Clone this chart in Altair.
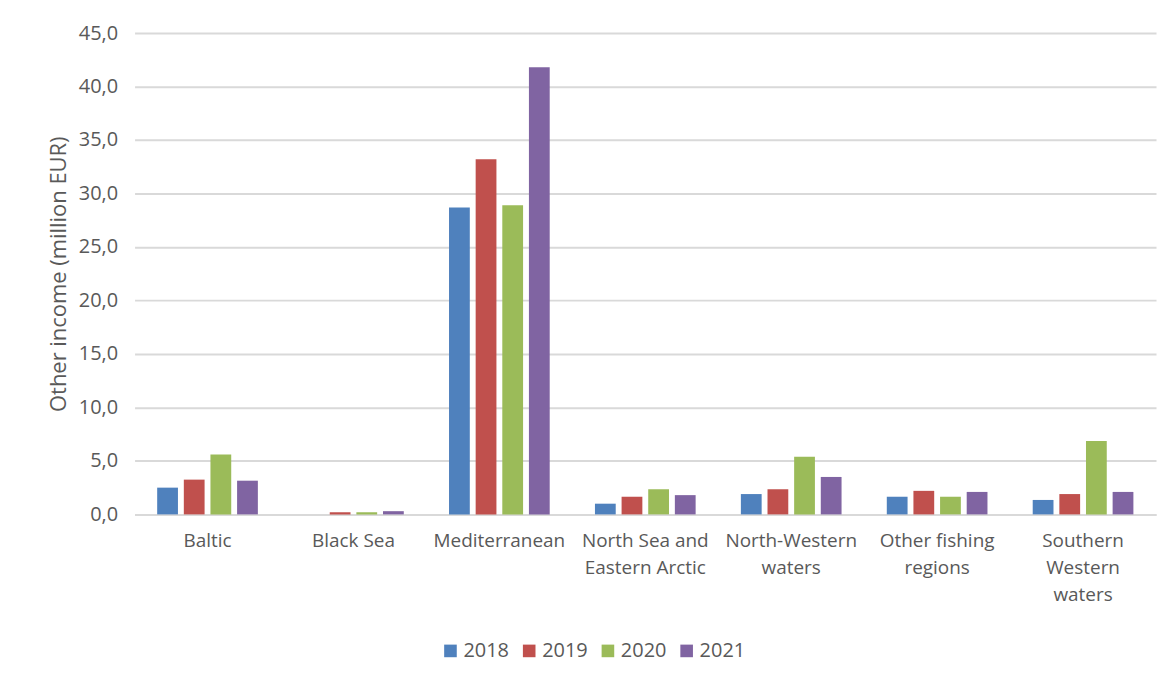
import altair as alt
import pandas as pd

regions = ["Baltic", "Black Sea", "Mediterranean", "North Sea and Eastern Arctic",
           "North-Western waters", "Other fishing regions", "Southern Western waters"]
region_labels = ["Baltic", "Black Sea", "Mediterranean", "North Sea and|Eastern Arctic",
                 "North-Western|waters", "Other fishing|regions", "Southern|Western|waters"]
years = ["2018", "2019", "2020", "2021"]
v2018 = [2.5, 0.0, 28.7, 1.0, 1.9, 1.65, 1.35]
v2019 = [3.25, 0.2, 33.2, 1.65, 2.35, 2.2, 1.9]
v2020 = [5.6, 0.2, 28.9, 2.35, 5.4, 1.65, 6.85]
v2021 = [3.15, 0.3, 41.8, 1.8, 3.5, 2.1, 2.1]
colors = ["#4F81BD", "#C0504D", "#9BBB59", "#8064A2"]

rows = []
for yr, vals in zip(years, [v2018, v2019, v2020, v2021]):
    for r, lab, v in zip(regions, region_labels, vals):
        rows.append({"region": lab, "year": yr, "value": v})
df = pd.DataFrame(rows)

FONT = "Open Sans"
GRAY = "#595959"

chart = alt.Chart(df).mark_bar().encode(
    x=alt.X("region:N", sort=region_labels, title=None,
            scale=alt.Scale(paddingInner=0.31, paddingOuter=0.155),
            axis=alt.Axis(labelAngle=0, labelExpr="split(datum.label, '|')",
                          labelFontSize=19, labelColor=GRAY, labelFont=FONT,
                          labelPadding=17, labelLineHeight=27, ticks=False,
                          domainColor="#D9D9D9", domainWidth=2, labelBaseline="top")),
    xOffset=alt.XOffset("year:N", sort=years, scale=alt.Scale(paddingInner=0.22)),
    y=alt.Y("value:Q", title="Other income (million EUR)",
            scale=alt.Scale(domain=[0, 45], nice=False),
            axis=alt.Axis(values=[0, 5, 10, 15, 20, 25, 30, 35, 40, 45],
                          labelExpr="replace(format(datum.value, '.1f'), '.', ',')",
                          labelFontSize=20, labelColor=GRAY, labelFont=FONT,
                          titleFontSize=22, titleColor=GRAY, titleFont=FONT,
                          titleFontWeight="normal", titlePadding=8,
                          labelPadding=17, ticks=False, domain=False,
                          gridColor="#D9D9D9", gridWidth=2)),
    color=alt.Color("year:N", sort=years, title=None,
                    scale=alt.Scale(domain=years, range=colors),
                    legend=alt.Legend(orient="none", direction="horizontal",
                                      legendX=307, legendY=610,
                                      symbolType="square", symbolSize=160,
                                      symbolStrokeWidth=0,
                                      labelFontSize=20, labelColor=GRAY, labelFont=FONT,
                                      columnPadding=10, labelOffset=3)),
).properties(
    width=1025, height=483,
    padding={"left": 39, "top": 14, "right": 5, "bottom": 5},
).configure_view(stroke=None)

chart.save("out.html", embed_options={"renderer": "svg", "actions": False})
